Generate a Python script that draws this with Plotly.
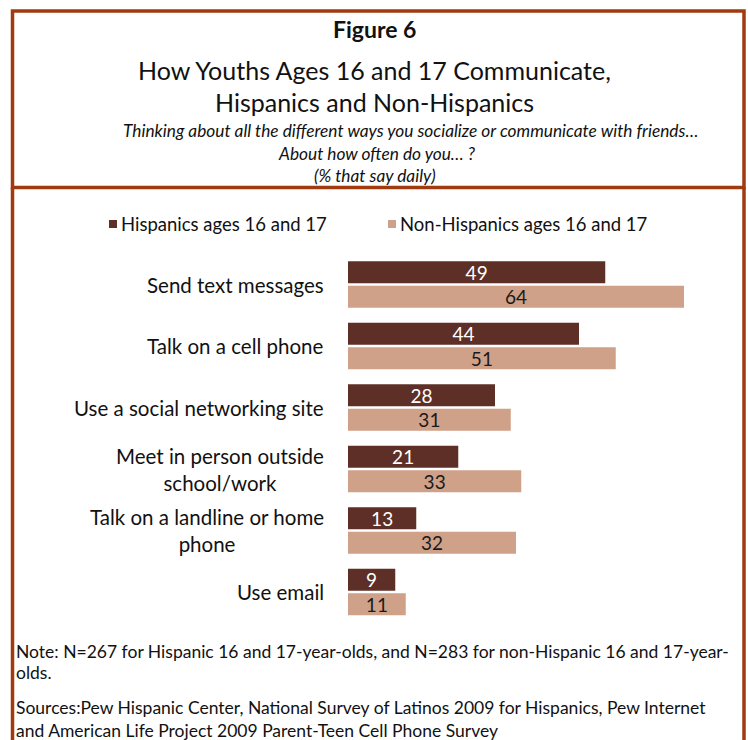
import plotly.graph_objects as go

# Survey data: % of 16-17 year-olds who do each activity daily
categories = [
    "Send text messages",
    "Talk on a cell phone",
    "Use a social networking site",
    "Meet in person outside<br>school/work",
    "Talk on a landline or home<br>phone",
    "Use email",
]
hispanic = [49, 44, 28, 21, 13, 9]
non_hispanic = [64, 51, 31, 33, 32, 11]
series_names = ["Hispanics ages 16 and 17", "Non-Hispanics ages 16 and 17"]

W, H = 748, 740
FONT = "Lato"
DARK = "#5E2F26"
LIGHT = "#CFA189"
BORDER = "#A23A10"


def py(y_px):
    """Convert a pixel row (from top) to paper y."""
    return 1 - y_px / H


def px(x_px):
    return x_px / W


fig = go.Figure()
fig.add_trace(go.Bar(
    y=categories, x=hispanic, orientation="h", name=series_names[0],
    marker=dict(color=DARK, line=dict(width=0)),
    text=[str(v) for v in hispanic], textposition="inside",
    insidetextanchor="middle", textangle=0, constraintext="none",
    textfont=dict(family=FONT, size=19, color="white"),
    showlegend=False,
))
fig.add_trace(go.Bar(
    y=categories, x=non_hispanic, orientation="h", name=series_names[1],
    marker=dict(color=LIGHT, line=dict(width=0)),
    text=[str(v) for v in non_hispanic], textposition="inside",
    insidetextanchor="middle", textangle=0, constraintext="none",
    textfont=dict(family=FONT, size=19, color="#1a1a1a"),
    showlegend=False,
))

fig.update_layout(
    width=W, height=H,
    margin=dict(l=0, r=0, t=0, b=0),
    paper_bgcolor="white", plot_bgcolor="white",
    barmode="group", bargap=0.2, bargroupgap=0.1,
    font=dict(family=FONT, color="#111111"),
)
fig.update_xaxes(range=[0, 75], domain=[px(348), px(741.75)],
                 visible=False, fixedrange=True)
fig.update_yaxes(domain=[py(622.75), py(253.75)], autorange="reversed",
                 showticklabels=False, showgrid=False, zeroline=False,
                 showline=False, ticks="", fixedrange=True)

# Category labels
for cat in categories:
    fig.add_annotation(
        x=px(326), xref="paper", y=cat, yref="y",
        text=cat, showarrow=False, xanchor="right", yanchor="middle",
        align="center", font=dict(family=FONT, size=20.5, color="#111111"),
    )

# Frame: title box and body box
shapes = [
    dict(type="rect", xref="paper", yref="paper",
         x0=px(12.5), x1=px(744), y0=py(187.5), y1=py(11),
         line=dict(color=BORDER, width=3.5)),
    dict(type="line", xref="paper", yref="paper",
         x0=px(12.5), x1=px(12.5), y0=py(187.5), y1=-0.01,
         line=dict(color=BORDER, width=3.5)),
    dict(type="line", xref="paper", yref="paper",
         x0=px(744), x1=px(744), y0=py(187.5), y1=-0.01,
         line=dict(color=BORDER, width=3.5)),
]
# Legend swatches
shapes.append(dict(type="rect", xref="paper", yref="paper",
                   x0=px(109), x1=px(117), y0=py(228), y1=py(220),
                   fillcolor=DARK, line=dict(width=0)))
shapes.append(dict(type="rect", xref="paper", yref="paper",
                   x0=px(388), x1=px(396), y0=py(228), y1=py(220),
                   fillcolor=LIGHT, line=dict(width=0)))
fig.update_layout(shapes=shapes)

legend_x = [119, 398]
for name, lx in zip(series_names, legend_x):
    fig.add_annotation(x=px(lx), y=py(224), xref="paper", yref="paper",
                       text=name, showarrow=False, xanchor="left",
                       yanchor="middle",
                       font=dict(family=FONT, size=18.5, color="#111111"))

# Titles: (text, center x, center y, size)
titles = [
    ("<b>Figure 6</b>", 374, 29, 23),
    ("How Youths Ages 16 and 17 Communicate,", 374, 70, 25),
    ("Hispanics and Non-Hispanics", 374, 102, 25),
    ("<i>Thinking about all the different ways you socialize or communicate with friends…</i>", 410, 131, 17.3),
    ("<i>About how often do you… ?</i>", 377, 153, 17.3),
    ("<i>(% that say daily)</i>", 375, 175, 17.3),
]
for txt, x, y, size in titles:
    fig.add_annotation(x=px(x), y=py(y), xref="paper", yref="paper",
                       text=txt, showarrow=False, xanchor="center",
                       yanchor="middle",
                       font=dict(family=FONT, size=size, color="#111111"))

# Notes and sources
notes = [
    ("Note: N=267 for Hispanic 16 and 17-year-olds, and N=283 for non-Hispanic 16 and 17-year-", 651),
    ("olds.", 672),
    ("Sources:Pew Hispanic Center, National Survey of Latinos 2009 for Hispanics, Pew Internet", 707),
    ("and American Life Project 2009 Parent-Teen Cell Phone Survey", 730),
]
for txt, y in notes:
    fig.add_annotation(x=px(14), y=py(y), xref="paper", yref="paper",
                       text=txt, showarrow=False, xanchor="left",
                       yanchor="middle",
                       font=dict(family=FONT, size=17.5, color="#111111"))

fig.write_html("out.html")
